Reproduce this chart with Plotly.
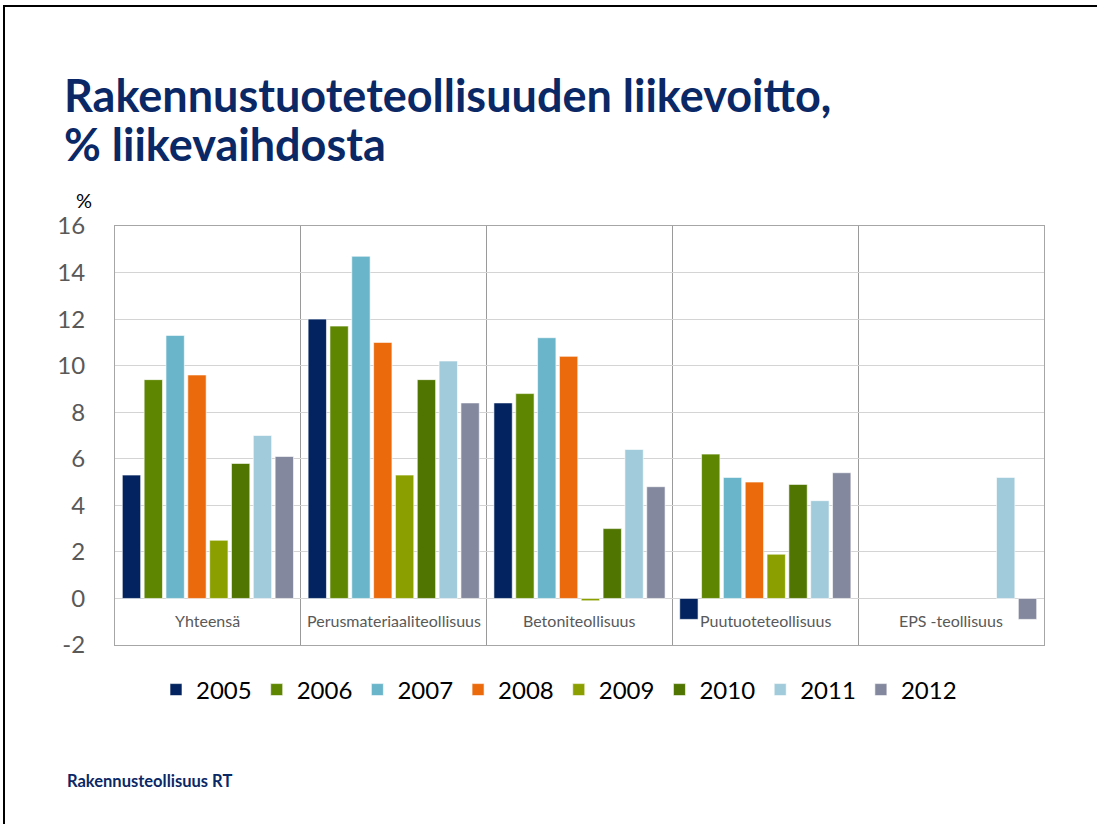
import plotly.graph_objects as go

categories = ["Yhteensä", "Perusmateriaaliteollisuus", "Betoniteollisuus", "Puutuoteteollisuus", "EPS -teollisuus"]
years = ["2005", "2006", "2007", "2008", "2009", "2010", "2011", "2012"]
v2005 = [5.3, 12.0, 8.4, -0.9, None]
v2006 = [9.4, 11.7, 8.8, 6.2, None]
v2007 = [11.3, 14.7, 11.2, 5.2, None]
v2008 = [9.6, 11.0, 10.4, 5.0, None]
v2009 = [2.5, 5.3, -0.1, 1.9, None]
v2010 = [5.8, 9.4, 3.0, 4.9, None]
v2011 = [7.0, 10.2, 6.4, 4.2, 5.2]
v2012 = [6.1, 8.4, 4.8, 5.4, -0.9]
series = [v2005, v2006, v2007, v2008, v2009, v2010, v2011, v2012]
colors = ["#02235F", "#5E8600", "#6AB5CA", "#EA6A0C", "#8BA000", "#507500", "#A1CADA", "#83889E"]
yticks = [-2, 0, 2, 4, 6, 8, 10, 12, 14, 16]
ytick_labels = ["-2", "0", "2", "4", "6", "8", "10", "12", "14", "16"]

FONT = "Lato"
W, H = 1097, 824
L, R, T, B = 115, 1044, 226, 645

def px(x):
    return (x - L) / (R - L)

def py(y):
    return (B - y) / (B - T)

fig = go.Figure()
for yr, vals, c in zip(years, series, colors):
    fig.add_trace(go.Bar(x=categories, y=vals, name=yr,
                         marker=dict(color=c, line=dict(color="rgba(255,255,255,0.6)", width=1))))

for cat in categories:
    fig.add_annotation(x=cat, y=-0.95, xref="x", yref="y", text=cat, showarrow=False,
                       font=dict(family=FONT, size=16, color="#595959"))

# title (two lines)
fig.add_annotation(x=px(62), y=py(95), xref="paper", yref="paper", xanchor="left", yanchor="middle",
                   text="<b>Rakennustuoteteollisuuden liikevoitto,</b>", showarrow=False,
                   font=dict(family=FONT, size=45, color="#0B2866"))
fig.add_annotation(x=px(62), y=py(144), xref="paper", yref="paper", xanchor="left", yanchor="middle",
                   text="<b>% liikevaihdosta</b>", showarrow=False,
                   font=dict(family=FONT, size=45, color="#0B2866"))
fig.add_annotation(x=px(74), y=py(200), xref="paper", yref="paper", xanchor="left", yanchor="middle",
                   text="%", showarrow=False, font=dict(family=FONT, size=20, color="#000000"))
fig.add_annotation(x=px(65), y=py(781), xref="paper", yref="paper", xanchor="left", yanchor="middle",
                   text="<b>Rakennusteollisuus RT</b>", showarrow=False,
                   font=dict(family=FONT, size=16.5, color="#0B2866"))

# slide border
fig.add_shape(type="line", xref="paper", yref="paper", x0=px(4), x1=px(1110), y0=py(6), y1=py(6),
              line=dict(color="black", width=2))
fig.add_shape(type="line", xref="paper", yref="paper", x0=px(4), x1=px(4), y0=py(5), y1=py(840),
              line=dict(color="black", width=2))

fig.update_layout(
    width=W, height=H,
    margin=dict(l=L, r=W - R, t=T, b=H - B, autoexpand=False),
    paper_bgcolor="white", plot_bgcolor="white",
    barmode="group", bargap=0.06, bargroupgap=0.16,
    font=dict(family=FONT),
    legend=dict(orientation="h", x=px(559), xanchor="center", y=py(690), yanchor="middle",
                font=dict(family=FONT, size=24, color="#000000"), traceorder="normal",
                itemwidth=30, tracegroupgap=0),
    showlegend=True,
)
fig.update_xaxes(showticklabels=False, showgrid=True, tickson="boundaries", gridcolor="#9A9A9A", gridwidth=1,
                 showline=True, mirror=True, linecolor="#A6A6A6", linewidth=1, ticks="")
fig.update_yaxes(range=[-2, 16], tickvals=yticks, ticktext=ytick_labels, showgrid=True,
                 gridcolor="#D4D4D4", gridwidth=1,
                 zeroline=True, zerolinecolor="#D4D4D4", zerolinewidth=1,
                 showline=True, mirror=True, linecolor="#A6A6A6", linewidth=1,
                 tickfont=dict(family=FONT, size=24, color="#595959"), ticks="", ticklabelstandoff=24)

fig.write_html("out.html", config={"displayModeBar": False},
               post_script="document.body.style.margin='0';document.body.style.overflow='hidden';")
